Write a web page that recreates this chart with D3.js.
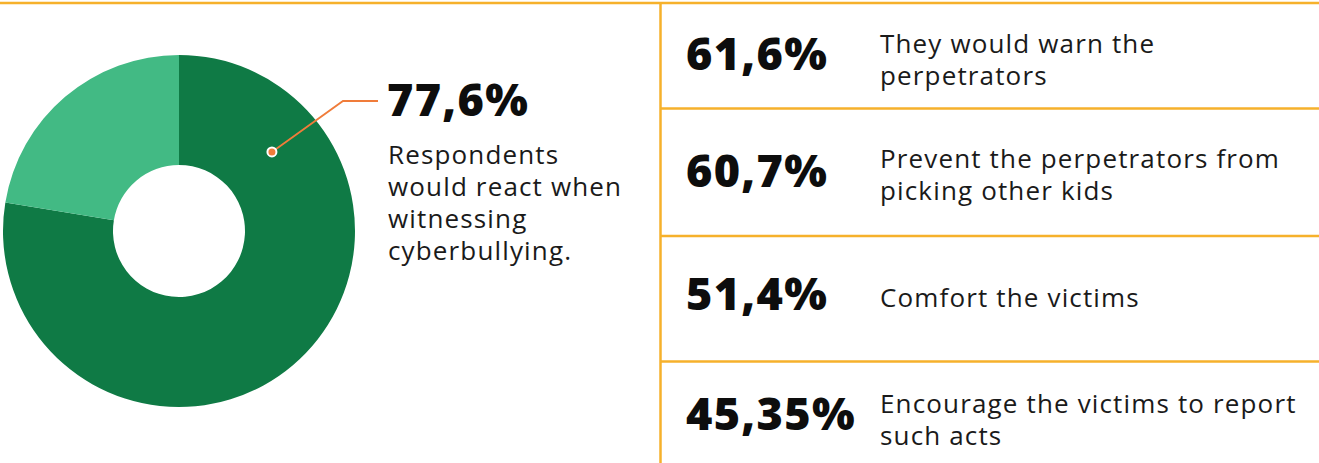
<!DOCTYPE html>
<html>
<head>
<meta charset="utf-8">
<script src="https://cdn.jsdelivr.net/npm/d3@7"></script>
<style>
  html, body { margin: 0; padding: 0; background: #ffffff; }
  svg { display: block; }
  .big { font-family: "Open Sans", "Noto Sans", sans-serif; font-weight: 800; fill: #0d0d0d; letter-spacing: 1.3px; }
  .body { font-family: "Open Sans", "Noto Sans", sans-serif; font-weight: 400; fill: #1a1a1a; letter-spacing: 1.15px; }
</style>
</head>
<body>
<svg id="chart" width="1319" height="463"></svg>
<script>
// Share of respondents who would react when witnessing cyberbullying
const donutCategories = ["Would react", "Would not react"];
const donutValues = [77.6, 22.4];
const donutColors = ["#0f7a45", "#42ba84"];
const headlineLabel = "77,6%";
const headlineText = ["Respondents", "would react when", "witnessing", "cyberbullying."];

// Reactions of those respondents
const reactionValues = [61.6, 60.7, 51.4, 45.35];
const reactionLabels = ["61,6%", "60,7%", "51,4%", "45,35%"];
const reactionTexts = [
  ["They would warn the", "perpetrators"],
  ["Prevent the perpetrators from", "picking other kids"],
  ["Comfort the victims"],
  ["Encourage the victims to report", "such acts"]
];

const W = 1319, H = 463;
const svg = d3.select("#chart");
const gold = "#f6b12b";
const orange = "#f07c3a";

// ---- frame lines ----
const divX = 660.5;
const rowEdges = [3, 108.5, 236, 361.5, H];
svg.append("line").attr("x1", 0).attr("x2", W).attr("y1", 3).attr("y2", 3)
  .attr("stroke", gold).attr("stroke-width", 2.5);
svg.append("line").attr("x1", divX).attr("x2", divX).attr("y1", 3).attr("y2", H)
  .attr("stroke", gold).attr("stroke-width", 2.5);
svg.selectAll("line.row").data(rowEdges.slice(1, -1)).enter().append("line")
  .attr("class", "row")
  .attr("x1", divX).attr("x2", W).attr("y1", d => d).attr("y2", d => d)
  .attr("stroke", gold).attr("stroke-width", 2.5);

// ---- donut ----
const cx = 179, cy = 231, rOuter = 176, rInner = 66;
const pie = d3.pie().sort(null).value(d => d.value);
const arcs = pie(donutCategories.map((c, i) => ({ name: c, value: donutValues[i] })));
const arc = d3.arc().innerRadius(rInner).outerRadius(rOuter);
const g = svg.append("g").attr("transform", `translate(${cx},${cy})`);
g.selectAll("path").data(arcs).enter().append("path")
  .attr("d", arc)
  .attr("fill", (d, i) => donutColors[i]);

// pointer from the main slice to its label
const pointerAngle = 0.866; // radians from 12 o'clock, clockwise
const pointerR = (rInner + rOuter) / 2 + 1;
const px = cx + pointerR * Math.sin(pointerAngle);
const py = cy - pointerR * Math.cos(pointerAngle);
const elbowX = 343, elbowY = 101, endX = 378;
svg.append("polyline")
  .attr("points", `${px},${py} ${elbowX},${elbowY} ${endX},${elbowY}`)
  .attr("fill", "none").attr("stroke", orange).attr("stroke-width", 1.8);
svg.append("circle").attr("cx", px).attr("cy", py).attr("r", 4.5)
  .attr("fill", orange).attr("stroke", "#ffffff").attr("stroke-width", 2);

svg.append("text").attr("class", "big")
  .attr("x", 387).attr("y", 116).attr("font-size", 45)
  .text(headlineLabel);
svg.append("g").selectAll("text").data(headlineText).enter().append("text")
  .attr("class", "body")
  .attr("x", 388).attr("y", (d, i) => 164 + i * 32).attr("font-size", 26)
  .text(d => d);

// ---- reaction rows ----
const valueBaselines = [70, 187, 310, 430];
const textBaselines = [[53, 85], [168, 200], [307], [413, 445]];
const rows = svg.append("g");
reactionLabels.forEach((lab, i) => {
  rows.append("text").attr("class", "big")
    .attr("x", 686).attr("y", valueBaselines[i]).attr("font-size", 45)
    .text(lab);
  reactionTexts[i].forEach((line, j) => {
    rows.append("text").attr("class", "body")
      .attr("x", 880).attr("y", textBaselines[i][j]).attr("font-size", 26)
      .text(line);
  });
});
</script>
</body>
</html>
